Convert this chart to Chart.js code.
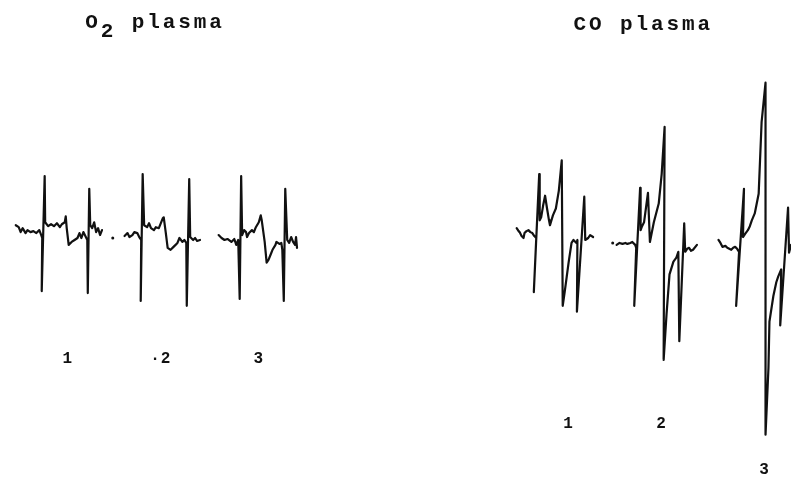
<!DOCTYPE html>
<html>
<head>
<meta charset="utf-8">
<script src="https://cdn.jsdelivr.net/npm/chart.js@4.4.1/dist/chart.umd.min.js"></script>
<style>
	body { margin: 0; background: #fff; }
	#wrap { position: relative; width: 795px; height: 477px; overflow: hidden; background: #fff; }
	canvas { position: absolute; top: 0; }
	#left { left: 0; }
	#right { left: 400px; }
</style>
</head>
<body>
<div id="wrap">
	<canvas id="left" width="400" height="477"></canvas>
	<canvas id="right" width="395" height="477"></canvas>
</div>
<script>
// |-----------------|
// |   Spectra data  |
// |-----------------|

// O2 plasma, spectrum 1
const o2_1_field  = [12, 15, 17, 19, 22, 24, 27, 30, 33, 36, 38, 39, 38.5, 41.5, 42, 45, 48, 51, 54, 57, 59, 62, 63, 64, 66, 69, 72, 75, 77, 79, 81, 83, 85, 85.5, 87, 88, 90, 92, 94, 96, 98, 100]
const o2_1_signal = [7, 5, 0, 4, -1, 2, 0, 1, -1, 2, -3, -6, -60, 57, 10, 6, 8, 6, 9, 5, 8, 10, 16, 4, -13, -10, -8, -6, -1, -6, 0, -4, -8, -62, 44, 7, 4, 10, 0, 4, -3, 2]

// O2 plasma, spectrum 2
const o2_2_field  = [123, 126, 128, 131, 133, 136, 138, 140, 139.5, 141.5, 143, 146, 148, 150, 153, 155, 158, 162, 163, 165, 167, 170, 173, 177, 179, 182, 184, 186, 186.5, 189, 190, 193, 195, 197, 200]
const o2_2_signal = [-4, -1, -5, -3, 0, -1, -5, -8, -70, 59, 7, 5, 9, 4, 2, 5, 4, 14, 15, 0, -16, -18, -15, -11, -6, -10, -8, -11, -75, 54, -5, -8, -6, -9, -8]

// O2 plasma, spectrum 3
const o2_3_field  = [219, 222, 225, 228, 232, 235, 237, 239, 240.5, 242, 243, 245, 247, 248, 250, 253, 255, 257, 260, 262, 263, 266, 268, 270, 272, 274, 277, 278, 281, 283, 284, 285.5, 287, 289, 291, 293, 295, 297, 298, 299]
const o2_3_signal = [-3, -6, -8, -7, -10, -7, -13, -8, -68, 57, -3, 2, 0, -5, -1, 2, 0, 5, 10, 17, 12, -10, -31, -28, -23, -18, -13, -10, -12, -11, -18, -70, 44, -8, -11, -5, -10, -13, -5, -16]

// CO plasma, spectrum 1
const co_1_field  = [515, 517, 518, 520, 522, 523, 525, 527, 529, 531, 533, 535, 532.5, 538, 538.5, 540, 542, 544, 546, 548, 549, 552, 555, 558, 561, 562, 564, 566, 568, 571, 573, 576, 577, 576.5, 584, 585, 588, 590, 593]
const co_1_signal = [12, 9, 8, 4, 2, 7, 9, 10, 8, 7, 4, 2, -53, 67, 20, 23, 35, 45, 32, 20, 15, 25, 32, 50, 81, -67, -53, -38, -23, -3, 0, -3, 0, -73, 44, 0, 2, 5, 3]

// CO plasma, spectrum 2
const co_2_field  = [617, 620, 623, 626, 628, 631, 633, 636, 637, 635, 641, 641.5, 643, 645, 649, 651, 655, 660, 663, 666, 665, 668, 671, 675, 678, 680, 681, 686, 687, 689, 691, 693, 695, 699]
const co_2_signal = [-5, -3, -4, -3, -4, -3, -2, -5, -8, -67, 53, 10, 14, 18, 48, -2, 18, 37, 67, 115, -122, -75, -35, -22, -18, -12, -103, 17, -12, -9, -8, -11, -10, -5]

// CO plasma, spectrum 3
const co_3_field  = [721, 723, 725, 728, 730, 732, 734, 736, 738, 740, 742, 739, 747, 746, 748, 751, 753, 755, 758, 762, 765, 769, 769, 772, 773, 777, 780, 782, 785, 784, 792, 793, 795]
const co_3_signal = [0, -3, -7, -6, -8, -9, -10, -8, -7, -9, -12, -67, 52, 3, 6, 10, 14, 20, 27, 47, 120, 160, -198, -130, -83, -57, -43, -37, -30, -87, 33, -13, -5]

// Stray specks on the recorder paper
const o2_speck = [{x: 111, y: -6}]
const co_speck = [{x: 613, y: -3}]

// Spectrum numbers
const o2_numbers = ['1', '\u00b72', '3']
const co_numbers = ['1', '2', '3']


// |---------------|
// |   Fonctions   |
// |---------------|

function to_points(fields, signals) {
	return fields.map((f, i) => ({x: f, y: signals[i]}))
}

function trace(fields, signals) {
	return {
		data: to_points(fields, signals),
		showLine: true,
		borderColor: '#111',
		borderWidth: 2.2,
		borderJoinStyle: 'round',
		borderCapStyle: 'round',
		pointRadius: 0,
		tension: 0
	}
}

function speck(points) {
	return {
		data: points,
		showLine: false,
		pointRadius: 1.5,
		borderWidth: 0,
		backgroundColor: '#111'
	}
}

// Titre et numéros dessinés avec les échelles du graphique
const panel_text = {
	id: 'panel_text',
	afterDatasetsDraw(chart, args, opts) {
		const ctx = chart.ctx
		const sx = chart.scales.x
		const sy = chart.scales.y
		ctx.save()
		ctx.fillStyle = '#111'

		// titre
		ctx.font = 'bold 21px "Liberation Mono", monospace'
		ctx.letterSpacing = '2.9px'
		ctx.textAlign = 'left'
		ctx.textBaseline = 'alphabetic'
		let x = sx.getPixelForValue(opts.title_x)
		const y = sy.getPixelForValue(opts.title_y)
		opts.title.forEach((part) => {
			ctx.fillText(part.text, x, y + part.dy)
			x += ctx.measureText(part.text).width
		})

		// numéros des spectres
		ctx.font = 'bold 16px "Liberation Mono", monospace'
		ctx.letterSpacing = '1px'
		ctx.textAlign = 'center'
		ctx.textBaseline = 'middle'
		opts.numbers.forEach((n, i) => {
			ctx.fillText(n, sx.getPixelForValue(opts.number_x[i]), sy.getPixelForValue(opts.number_y[i]))
		})
		ctx.restore()
	}
}

function get_config(datasets, x_min, x_max, y_min, y_max, text_opts) {
	return {
		type: 'scatter',
		data: {datasets: datasets},
		options: {
			responsive: false,
			animation: false,
			devicePixelRatio: 1,
			layout: {padding: 0},
			plugins: {
				legend: {display: false},
				tooltip: {enabled: false},
				panel_text: text_opts
			},
			scales: {
				x: {type: 'linear', min: x_min, max: x_max, display: false},
				y: {type: 'linear', min: y_min, max: y_max, display: false}
			}
		},
		plugins: [panel_text]
	}
}

new Chart(document.getElementById('left'), get_config(
	[trace(o2_1_field, o2_1_signal), trace(o2_2_field, o2_2_signal), trace(o2_3_field, o2_3_signal), speck(o2_speck)],
	0, 400, -245, 232,
	{
		title: [{text: 'O', dy: 0}, {text: '2', dy: 9}, {text: ' plasma', dy: 0}],
		title_x: 83, title_y: 208,
		numbers: o2_numbers,
		number_x: [65, 160, 260],
		number_y: [-129, -129, -129]
	}
))

new Chart(document.getElementById('right'), get_config(
	[trace(co_1_field, co_1_signal), trace(co_2_field, co_2_signal), trace(co_3_field, co_3_signal), speck(co_speck)],
	400, 795, -237, 240,
	{
		title: [{text: 'CO plasma', dy: 0}],
		title_x: 573, title_y: 214,
		numbers: co_numbers,
		number_x: [568, 663, 768],
		number_y: [-187, -187, -234]
	}
))
</script>
</body>
</html>
